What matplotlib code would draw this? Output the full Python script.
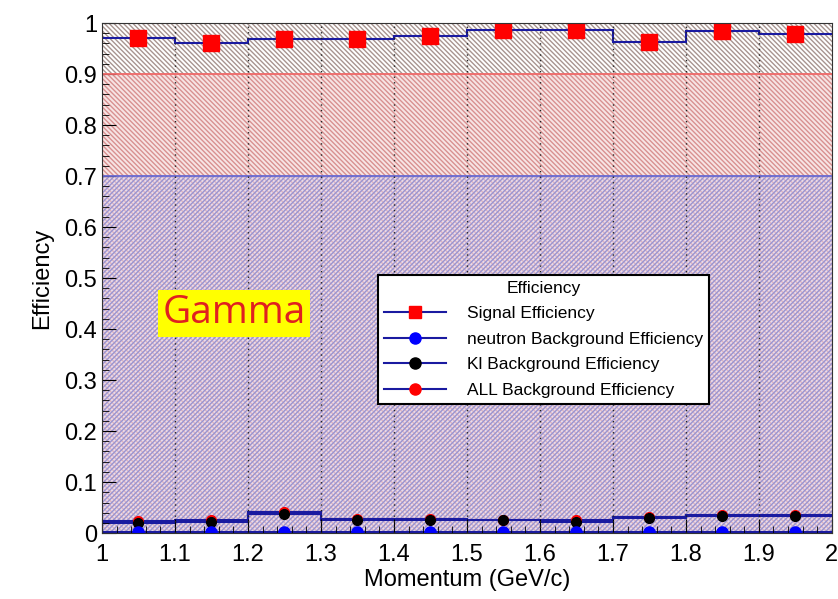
import numpy as np
import matplotlib.pyplot as plt
from matplotlib.lines import Line2D

plt.rcParams['font.family'] = ['Liberation Sans', 'DejaVu Sans']
plt.rcParams['hatch.linewidth'] = 1.0

# momentum bins (GeV/c)
bin_edges = [1.0, 1.1, 1.2, 1.3, 1.4, 1.5, 1.6, 1.7, 1.8, 1.9, 2.0]
signal_eff = [0.970, 0.961, 0.968, 0.968, 0.975, 0.986, 0.986, 0.962, 0.984, 0.978]
neutron_eff = [0.003, 0.003, 0.003, 0.003, 0.003, 0.003, 0.003, 0.003, 0.003, 0.003]
kl_eff = [0.020, 0.022, 0.038, 0.025, 0.025, 0.025, 0.022, 0.030, 0.033, 0.034]
all_bkg_eff = [0.023, 0.025, 0.042, 0.028, 0.028, 0.026, 0.025, 0.032, 0.036, 0.036]
signal_err = 0.004
bkg_err = 0.006

edges = np.array(bin_edges)
centers = 0.5 * (edges[:-1] + edges[1:])

fig = plt.figure(figsize=(8.38, 5.99), dpi=100)
ax = fig.add_axes([0.1217, 0.110, 0.871, 0.8516])

# shaded bands: 0.9-1 grey, 0-0.9 red, 0-0.7 blue on top
ax.fill_between([1.0, 2.0], 0, 1.0, facecolor='white', edgecolor='#a89490', hatch='\\' * 7, linewidth=0)
ax.fill_between([1.0, 2.0], 0, 0.9, facecolor='#f7e4e4', edgecolor='#d89090', hatch='\\' * 7, linewidth=0)
ax.fill_between([1.0, 2.0], 0, 0.7, facecolor=(0.88, 0.84, 0.95, 0.5), edgecolor='#9a94d0', hatch='/' * 7, linewidth=0)
ax.axhline(0.9, color='#f06868', linewidth=1.3)
ax.axhline(0.7, color='#6868d0', linewidth=1.3)

# dotted grid at major x ticks
for x in np.arange(1.1, 2.0, 0.1):
    ax.axvline(x, color='#222222', linestyle=(0, (1, 3)), linewidth=1)

navy = '#1a1aa0'
for vals in [signal_eff, kl_eff, all_bkg_eff, neutron_eff]:
    ax.stairs(vals, edges, color=navy, linewidth=1.5, baseline=None)

ax.errorbar(centers, all_bkg_eff, yerr=bkg_err, fmt='o', color='red', ms=7, capsize=2, ecolor='red', elinewidth=1)
ax.errorbar(centers, kl_eff, yerr=bkg_err, fmt='o', color='black', ms=7, capsize=2, ecolor='black', elinewidth=1)
ax.errorbar(centers, neutron_eff, yerr=0.002, fmt='o', color='blue', ms=8, capsize=2, ecolor='blue', elinewidth=1)
ax.errorbar(centers, signal_eff, yerr=signal_err, fmt='s', color='red', ms=11, capsize=2, ecolor=navy, elinewidth=1)

ax.set_xlim(1.0, 2.0)
ax.set_ylim(0, 1.0)
ax.set_xticks(np.arange(1.0, 2.01, 0.1))
ax.set_xticklabels(['1', '1.1', '1.2', '1.3', '1.4', '1.5', '1.6', '1.7', '1.8', '1.9', '2'])
ax.set_yticks(np.arange(0, 1.01, 0.1))
ax.set_yticklabels(['0', '0.1', '0.2', '0.3', '0.4', '0.5', '0.6', '0.7', '0.8', '0.9', '1'])
ax.minorticks_on()
ax.tick_params(which='both', direction='in', labelsize=17, top=False, right=False)
ax.tick_params(which='major', length=10)
ax.tick_params(which='minor', length=5)
ax.tick_params(axis='x', pad=8)
for s in ax.spines.values():
    s.set_color('#333333')

ax.set_xlabel('Momentum (GeV/c)', fontsize=17, labelpad=2)
ax.set_ylabel('Efficiency', fontsize=17, labelpad=8)

ax.text(1.181, 0.431, 'Gamma', fontsize=28, color='#e02020', family=['Open Sans', 'DejaVu Sans'],
        ha='center', va='center',
        bbox=dict(boxstyle='square,pad=0.12', facecolor='yellow', edgecolor='none'))

handles = [
    Line2D([], [], color=navy, marker='s', mfc='red', mec='red', ms=9, lw=1.5),
    Line2D([], [], color=navy, marker='o', mfc='blue', mec='blue', ms=8, lw=1.5),
    Line2D([], [], color=navy, marker='o', mfc='black', mec='black', ms=8, lw=1.5),
    Line2D([], [], color=navy, marker='o', mfc='red', mec='red', ms=8, lw=1.5),
]
labels = ['Signal Efficiency', 'neutron Background Efficiency', 'Kl Background Efficiency', 'ALL Background Efficiency']
leg = ax.legend(handles, labels, title='Efficiency', loc='lower left', bbox_to_anchor=(0.366, 0.236),
                fontsize=12.5, title_fontsize=12.5, fancybox=False, framealpha=1, edgecolor='black',
                handlelength=3.6, borderpad=0.35, labelspacing=0.6, handletextpad=1.2)
leg.get_frame().set_linewidth(1.5)

fig.savefig('out.png', dpi=100)
